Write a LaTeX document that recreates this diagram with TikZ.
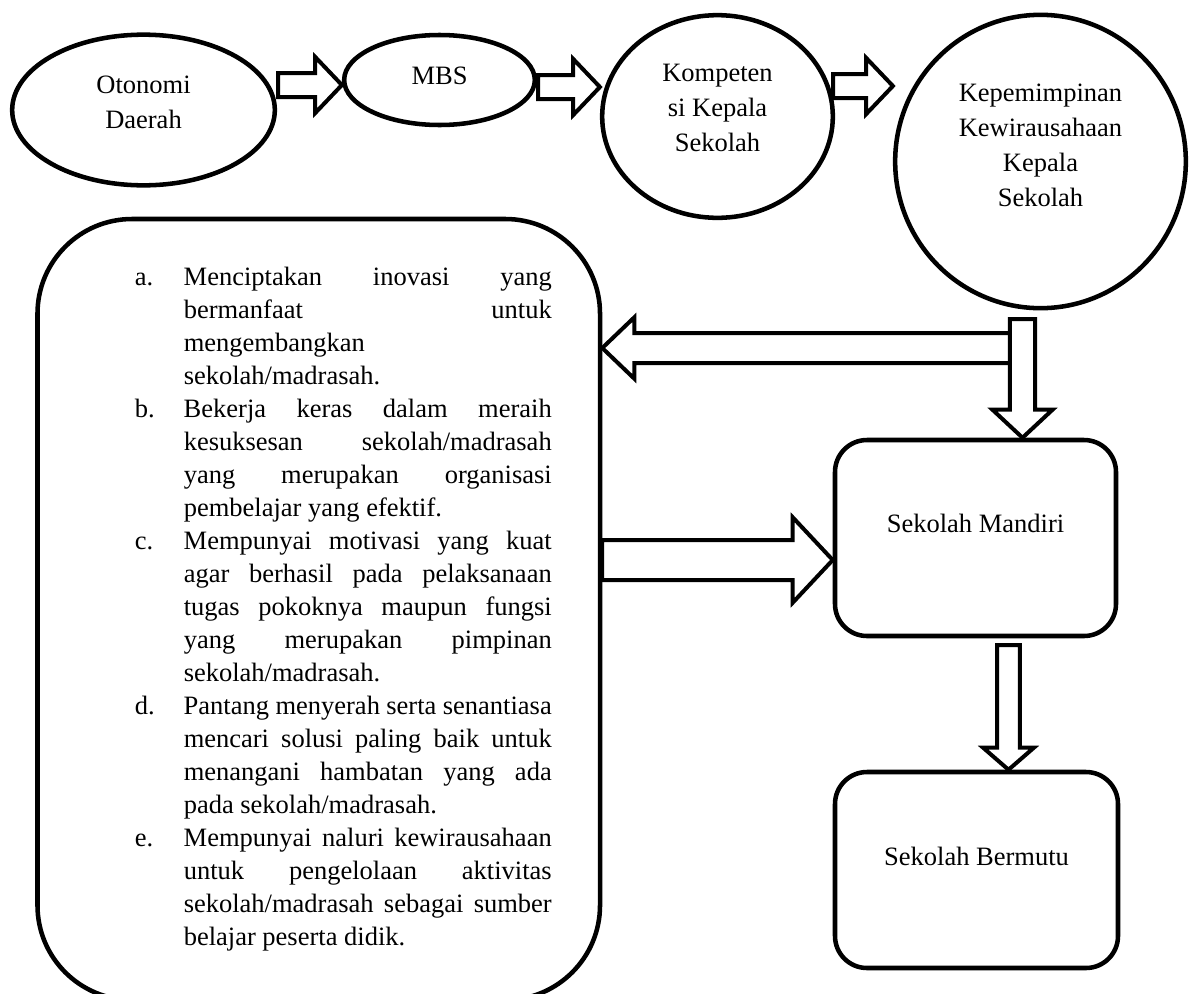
\documentclass[tikz,border=0pt]{standalone}
\usepackage{fontspec}
\setmainfont{Liberation Serif}
\usetikzlibrary{shapes.geometric,calc}

\tikzset{every picture/.style={line width=0.75pt}}
\tikzset{
  oval/.style={draw, ellipse, line width=3.4pt, inner sep=0pt},
  roundbox/.style={draw, rectangle, rounded corners=24pt, line width=3.4pt, inner sep=0pt},
  lbl/.style={font=\fontsize{19.875}{26.25}\selectfont, align=center, inner sep=0pt},
  blk/.style={draw, fill=white, line width=3pt}
}

% block arrow: start, tip, shaft half width, head half width, head length
\newcommand{\blockarrow}[5]{%
  \draw[blk] ($(#1)!#3!90:(#2)$)
    -- ($(#2)!#5!(#1)!#3!-90:(#1)$)
    -- ($(#2)!#5!(#1)!#4!-90:(#1)$)
    -- (#2)
    -- ($(#2)!#5!(#1)!#4!90:(#1)$)
    -- ($(#2)!#5!(#1)!#3!90:(#1)$)
    -- ($(#1)!#3!-90:(#2)$) -- cycle;}

% list lines: justified and left
\newcommand{\jrow}[2]{\noindent\hspace*{36.75pt}\makebox[36.75pt][l]{#1}\makebox[276pt][s]{#2}\par}
\newcommand{\lrow}[2]{\noindent\hspace*{36.75pt}\makebox[36.75pt][l]{#1}#2\par}

\begin{document}
\begin{tikzpicture}[x=0.75pt,y=0.75pt,yscale=-1,xscale=1]
\useasboundingbox (0,0) rectangle (1189,993);

% Ellipses
\node[oval, minimum width=197pt, minimum height=113pt, label={[lbl,yshift=6pt]center:{Otonomi\\Daerah}}] (oto) at (143.5,110) {};
\node[oval, minimum width=143pt, minimum height=67.5pt, label={[lbl,yshift=3pt]center:{MBS}}] (mbs) at (439.5,80) {};
\node[oval, minimum width=173pt, minimum height=152pt, label={[lbl,yshift=6.75pt]center:{Kompeten\\si Kepala\\Sekolah}}] (komp) at (717.5,116.5) {};
\node[oval, minimum width=218pt, minimum height=220pt, label={[lbl,yshift=12pt]center:{Kepemimpinan\\Kewirausahaan\\Kepala\\Sekolah}}] (kwu) at (1040.5,161.5) {};

% Rounded boxes
\node[roundbox, rounded corners=71pt, minimum width=421.9pt, minimum height=585.75pt] (lst) at (318.75,609.5) {\parbox{349.5pt}{\fontsize{19.875}{24.75}\selectfont\setlength{\parskip}{0pt}%
\jrow{a.}{Menciptakan inovasi yang}
\jrow{}{bermanfaat untuk}
\lrow{}{mengembangkan}
\lrow{}{sekolah/madrasah.}
\jrow{b.}{Bekerja keras dalam meraih}
\jrow{}{kesuksesan sekolah/madrasah}
\jrow{}{yang merupakan organisasi}
\lrow{}{pembelajar yang efektif.}
\jrow{c.}{Mempunyai motivasi yang kuat}
\jrow{}{agar berhasil pada pelaksanaan}
\jrow{}{tugas pokoknya maupun fungsi}
\jrow{}{yang merupakan pimpinan}
\lrow{}{sekolah/madrasah.}
\jrow{d.}{Pantang menyerah serta senantiasa}
\jrow{}{mencari solusi paling baik untuk}
\jrow{}{menangani hambatan yang ada}
\lrow{}{pada sekolah/madrasah.}
\jrow{e.}{Mempunyai naluri kewirausahaan}
\jrow{}{untuk pengelolaan aktivitas}
\jrow{}{sekolah/madrasah sebagai sumber}
\lrow{}{belajar peserta didik.}}};
\node[roundbox, minimum width=210.75pt, minimum height=147pt, label={[lbl,yshift=11.25pt]center:{Sekolah Mandiri}}] (mandiri) at (975.5,538) {};
\node[roundbox, minimum width=212.25pt, minimum height=147pt, label={[lbl,yshift=10.5pt]center:{Sekolah Bermutu}}] (bermutu) at (976.5,870) {};

% Arrow starts
\coordinate (s1) at (278,85);
\coordinate (s2) at (538,87);
\coordinate (s3) at (833,86);
\coordinate (s4) at (1010,348);
\coordinate (s5) at (1022.5,319);
\coordinate (s6) at (602,560);
\coordinate (s7) at (1008.5,645);

% Block arrows
\blockarrow{s1}{mbs.west |- s1}{9pt}{21pt}{20pt}
\blockarrow{s2}{komp.west |- s2}{9pt}{21pt}{20pt}
\blockarrow{s3}{kwu.west |- s3}{9pt}{21pt}{20pt}
\blockarrow{s4}{lst.east |- s4}{11.25pt}{23pt}{24pt}
\blockarrow{s5}{s5 |- mandiri.north}{9.4pt}{22.5pt}{21pt}
\blockarrow{s6}{mandiri.west |- s6}{15pt}{32pt}{30pt}
\blockarrow{s7}{s7 |- bermutu.north}{8.6pt}{19pt}{16.5pt}

\end{tikzpicture}
\end{document}
